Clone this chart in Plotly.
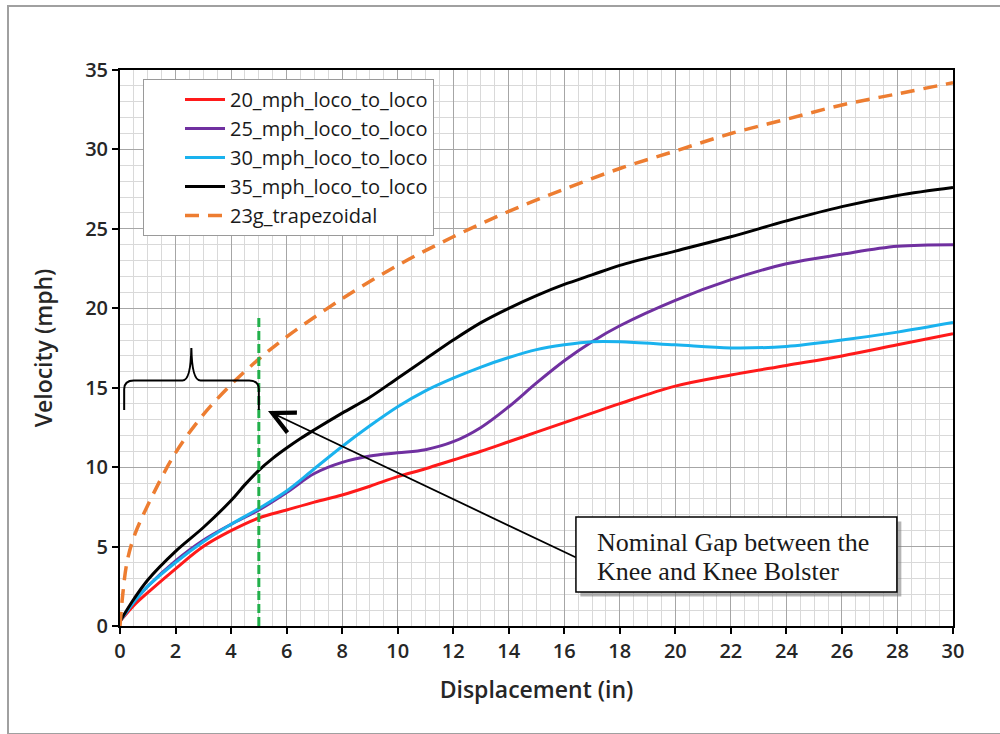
import plotly.graph_objects as go

# ---- data ----
x_disp = [0, 0.5, 1, 2, 3, 4, 5, 6, 7, 8, 9, 10, 11, 12, 13, 14, 15, 16, 17, 18, 20, 22, 24, 26, 28, 30]

v20 = [0.3, 1.3, 2.1, 3.6, 5.0, 6.0, 6.8, 7.3, 7.8, 8.25, 8.8, 9.4, 9.9, 10.45, 11.0, 11.6, 12.2, 12.8, 13.4, 14.0, 15.1, 15.8, 16.4, 17.0, 17.7, 18.4]
v25 = [0.3, 1.5, 2.5, 4.1, 5.4, 6.4, 7.3, 8.4, 9.6, 10.3, 10.7, 10.9, 11.1, 11.6, 12.5, 13.8, 15.3, 16.7, 17.9, 18.9, 20.5, 21.8, 22.8, 23.4, 23.9, 24.0]
v30 = [0.3, 1.5, 2.5, 4.0, 5.3, 6.4, 7.4, 8.5, 9.9, 11.3, 12.6, 13.8, 14.8, 15.6, 16.3, 16.9, 17.4, 17.7, 17.9, 17.9, 17.7, 17.5, 17.6, 18.0, 18.5, 19.1]

x_35 = [0, 0.5, 1, 2, 3, 4, 4.5, 5, 5.5, 6, 6.5, 7, 8, 9, 10, 11, 12, 13, 14, 15, 16, 17, 18, 20, 22, 24, 26, 28, 30]
v35 = [0.3, 1.7, 2.9, 4.7, 6.2, 7.9, 8.9, 9.8, 10.55, 11.2, 11.8, 12.35, 13.4, 14.4, 15.6, 16.8, 18.0, 19.1, 20.0, 20.8, 21.5, 22.1, 22.7, 23.6, 24.5, 25.5, 26.4, 27.1, 27.6]

x_trap = [0, 0.1, 0.25, 0.5, 1, 2, 3, 4, 5, 6, 8, 10, 12, 14, 16, 18, 20, 22, 24, 26, 28, 30]
v_trap = [0, 2.0, 4.0, 5.6, 7.6, 10.9, 13.3, 15.2, 16.8, 18.2, 20.6, 22.7, 24.5, 26.1, 27.5, 28.8, 29.9, 31.0, 31.9, 32.8, 33.5, 34.2]

gap_x = [5, 5]
gap_y = [0, 19.4]

series_names = ["20_mph_loco_to_loco", "25_mph_loco_to_loco", "30_mph_loco_to_loco", "35_mph_loco_to_loco"]
series_x = [x_disp, x_disp, x_disp, x_35]
series_vals = [v20, v25, v30, v35]
series_colors = ["#ff1a1a", "#7030a0", "#1ab2ee", "#000000"]

x_ticks = list(range(0, 31, 2))
y_ticks = list(range(0, 36, 5))

FONT = "Open Sans"
TXT = "#262626"

fig = go.Figure()
for name, xs, vals, col in zip(series_names, series_x, series_vals, series_colors):
    fig.add_trace(go.Scatter(x=xs, y=vals, name=name, mode="lines",
                             line=dict(color=col, width=3, shape="spline", smoothing=1.0)))
fig.add_trace(go.Scatter(x=x_trap, y=v_trap, name="23g_trapezoidal", mode="lines",
                         line=dict(color="#ed7d31", width=3.5, dash="14px,9px", shape="spline", smoothing=1.0)))
fig.add_trace(go.Scatter(x=gap_x, y=gap_y, mode="lines", showlegend=False,
                         line=dict(color="#22b04b", width=3, dash="9px,4px")))

axis_common = dict(
    showline=True, linecolor="black", linewidth=2, mirror=True,
    ticks="outside", ticklen=6, tickwidth=2, tickcolor="black",
    showgrid=True, gridcolor="#a6a6a6", gridwidth=1,
    zeroline=False,
    tickfont=dict(family=FONT, size=20, color=TXT, weight=600),
)

fig.update_xaxes(range=[0, 30], tickvals=x_ticks,
                 minor=dict(dtick=0.5, showgrid=True, gridcolor="#d9d9d9", gridwidth=1, ticks=""),
                 title=dict(text="Displacement (in)", font=dict(family=FONT, size=23, color=TXT, weight=600), standoff=19),
                 **axis_common)
fig.update_yaxes(range=[0, 35], tickvals=y_ticks,
                 minor=dict(dtick=1, showgrid=True, gridcolor="#d9d9d9", gridwidth=1, ticks=""),
                 title=dict(text="Velocity (mph)", font=dict(family=FONT, size=23, color=TXT, weight=600), standoff=26),
                 **axis_common)

shapes = []
# outer chart border
shapes.append(dict(type="rect", xref="paper", yref="paper",
                   x0=(8 - 120) / 833, x1=(1010 - 120) / 833,
                   y0=(626 - 734) / 556, y1=(626 - 6) / 556,
                   line=dict(color="#a0a0a0", width=2), fillcolor="rgba(0,0,0,0)", layer="below"))
# curly brace
brace = ("M 0.15,13.6 L 0.15,14.9 Q 0.15,15.45 0.5,15.45 L 2.25,15.45 "
         "Q 2.55,15.45 2.57,17.5 Q 2.59,15.45 2.9,15.45 L 4.65,15.45 "
         "Q 5.0,15.45 5.0,14.9 L 5.0,13.6")
shapes.append(dict(type="path", xref="x", yref="y", path=brace,
                   line=dict(color="black", width=2), layer="above"))
# text box shadow and box
shapes.append(dict(type="rect", xref="x", yref="y", x0=16.42 + 0.16, x1=27.98 + 0.16, y0=2.14 - 0.28, y1=6.86 - 0.28,
                   line=dict(width=0), fillcolor="rgba(120,120,120,0.55)", layer="above"))
shapes.append(dict(type="rect", xref="x", yref="y", x0=16.42, x1=27.98, y0=2.14, y1=6.86,
                   line=dict(color="black", width=1.5), fillcolor="white", layer="above"))

annotations = [
    dict(x=5.33, y=13.53, ax=16.46, ay=4.28, xref="x", yref="y", axref="x", ayref="y",
         text="", showarrow=True, arrowhead=5, arrowsize=2.4, arrowwidth=1.8, arrowcolor="black", standoff=0),
    dict(x=17.1, y=5.25, xref="x", yref="y", text="Nominal Gap between the", showarrow=False,
         xanchor="left", yanchor="middle", font=dict(family="Liberation Serif", size=26, color="#1a1a1a")),
    dict(x=17.1, y=3.42, xref="x", yref="y", text="Knee and Knee Bolster", showarrow=False,
         xanchor="left", yanchor="middle", font=dict(family="Liberation Serif", size=26, color="#1a1a1a")),
]

fig.update_layout(
    width=1000, height=734,
    margin=dict(l=120, r=47, t=70, b=108),
    paper_bgcolor="white", plot_bgcolor="white",
    font=dict(family=FONT, color=TXT),
    showlegend=True,
    legend=dict(x=(143 - 120) / 833, y=(626 - 79) / 556, xanchor="left", yanchor="top",
                bgcolor="white", bordercolor="#9a9a9a", borderwidth=1,
                font=dict(family=FONT, size=20, color="#1a1a1a"),
                tracegroupgap=0, itemwidth=40, indentation=36),
    shapes=shapes,
    annotations=annotations,
)

fig.write_html("out.html")
